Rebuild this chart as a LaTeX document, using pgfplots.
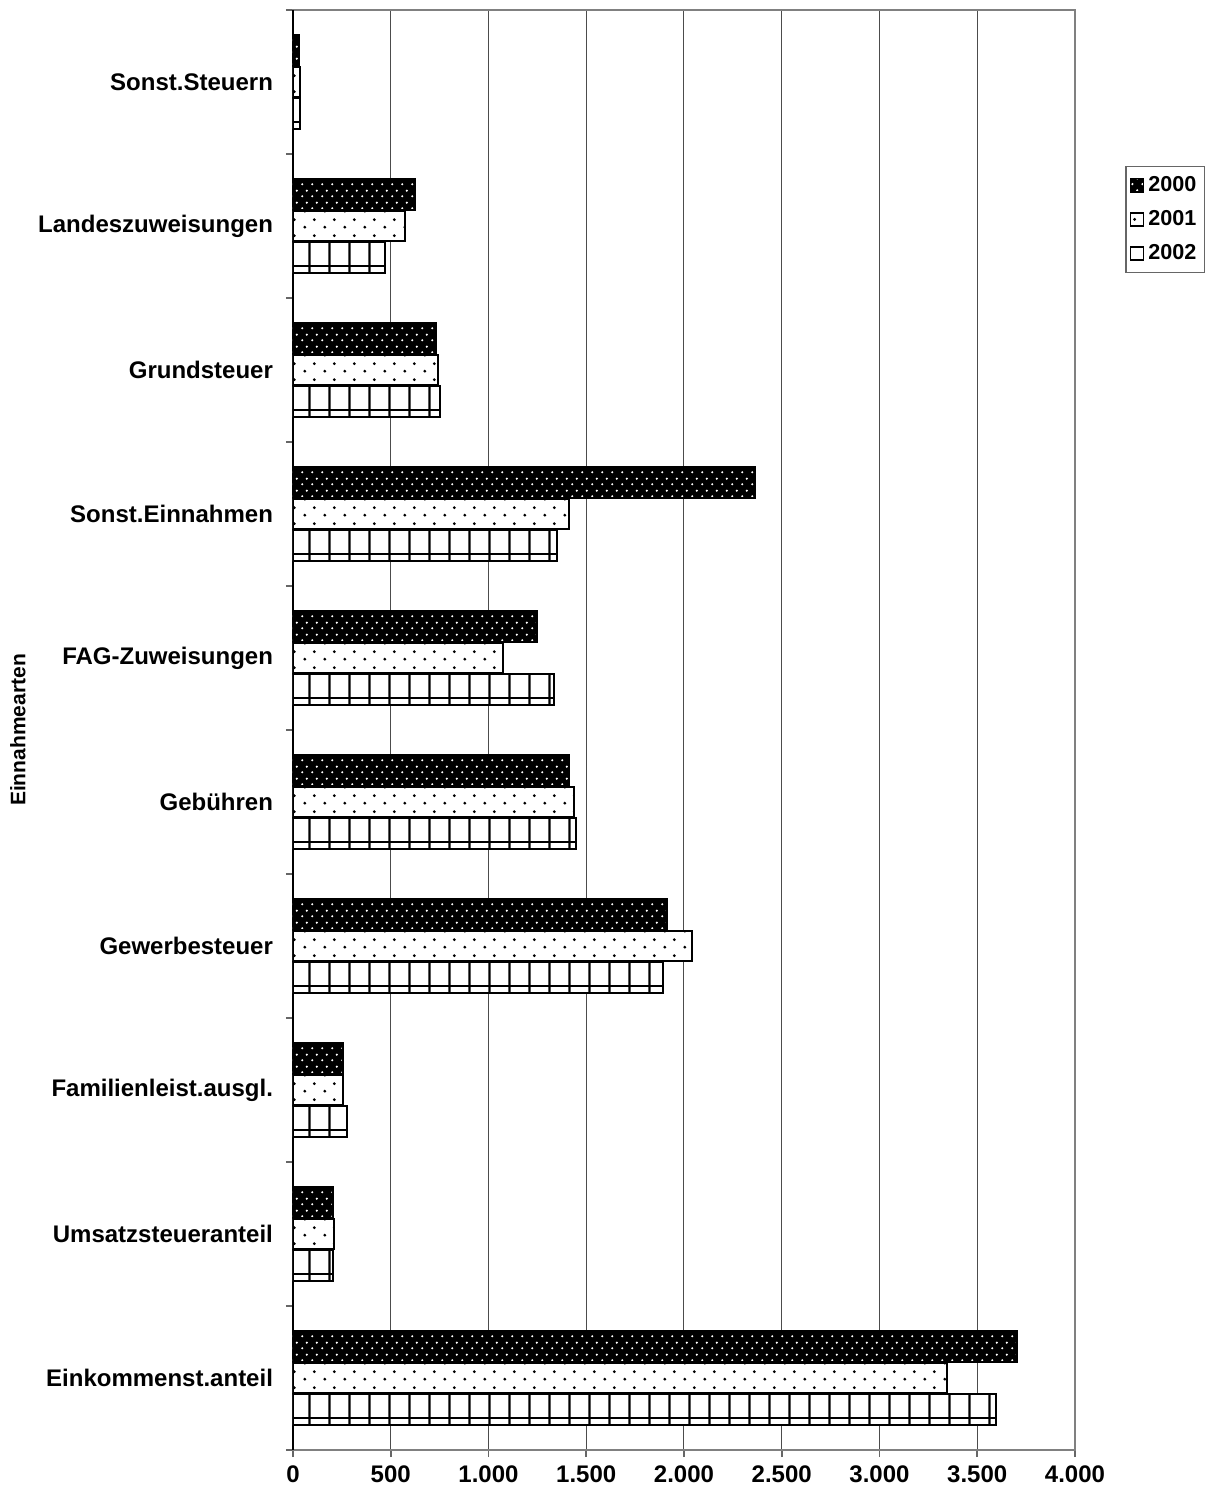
\documentclass[border=0pt]{standalone}
\usepackage{fontspec}
\setmainfont{Liberation Sans}
\usepackage{pgfplots}
\usepackage{pgfplotstable}
\pgfplotsset{compat=1.18}
\usetikzlibrary{patterns}

% dense dots (white on black bars)
\pgfdeclarepatternformonly{dotsA}{\pgfqpoint{0pt}{0pt}}{\pgfqpoint{5pt}{6pt}}{\pgfqpoint{5pt}{6pt}}{
  \pgfpathcircle{\pgfqpoint{1.25pt}{1.5pt}}{0.65pt}
  \pgfpathcircle{\pgfqpoint{3.75pt}{4.5pt}}{0.65pt}
  \pgfusepath{fill}}
% sparse dots (black on white bars)
\pgfdeclarepatternformonly{dotsB}{\pgfqpoint{0pt}{0pt}}{\pgfqpoint{10pt}{8pt}}{\pgfqpoint{10pt}{8pt}}{
  \pgfpathcircle{\pgfqpoint{2.5pt}{2pt}}{0.8pt}
  \pgfpathcircle{\pgfqpoint{7.5pt}{6pt}}{0.8pt}
  \pgfusepath{fill}}
% vertical lines
\pgfdeclarepatternformonly{vlines}{\pgfqpoint{0pt}{0pt}}{\pgfqpoint{10pt}{10pt}}{\pgfqpoint{10pt}{10pt}}{
  \pgfpathrectangle{\pgfqpoint{4.4pt}{-0.5pt}}{\pgfqpoint{1.2pt}{11pt}}
  \pgfusepath{fill}}

% pos 0 = Einkommenst.anteil (bottom) ... 9 = Sonst.Steuern (top)
\pgfplotstableread{
pos a b c
0 3703 3345 3596
1 205 210 205
2 256 256 276
3 1913 2041 1893
4 1412 1437 1448
5 1248 1074 1335
6 2363 1412 1350
7 731 742 752
8 622 571 471
9 31 36 34
}\data

\begin{document}
\begin{tikzpicture}
\path[use as bounding box] (-146.5pt,-22.5pt) rectangle (458.5pt,725pt);
\begin{axis}[
    at={(0,0)}, anchor=south west,
    scale only axis,
    width=391pt, height=720pt,
    xbar,
    xmin=0, xmax=4000,
    ymin=-0.5, ymax=9.5,
    xtick={0,500,...,4000},
    minor xtick={0,500,...,4000},
    ytick={0,...,9},
    yticklabels={Einkommenst.anteil, Umsatzsteueranteil, Familienleist.ausgl., Gewerbesteuer, Geb\"uhren, FAG-Zuweisungen, Sonst.Einnahmen, Grundsteuer, Landeszuweisungen, Sonst.Steuern},
    minor ytick={-0.5,0.5,...,9.5},
    tick align=outside,
    major tick length=0pt,
    minor tick length=3.5pt,
    xtick pos=left, ytick pos=left,
    tick style={black!60, line width=0.8pt},
    axis line style={black!50, line width=1pt},
    xmajorgrids,
    major grid style={black!70, line width=0.5pt},
    extra x ticks={0}, extra x tick labels={},
    extra x tick style={grid=major, major grid style={black, line width=1.2pt}},
    /pgf/number format/.cd, 1000 sep={.}, assume math mode=true,
    /pgfplots/.cd,
    ticklabel style={font=\fontsize{12}{14}\selectfont\bfseries},
    xticklabel style={yshift=-4.5pt},
    yticklabel style={xshift=-6.5pt},
    ylabel={Einnahmearten},
    every axis y label/.style={at={(rel axis cs:-0.3517,0.5)}, rotate=90, anchor=center,
        font=\fontsize{10.5}{12}\selectfont\bfseries},
    legend style={at={(rel axis cs:1.064,0.892)}, anchor=north west,
        draw=black!60, line width=0.8pt,
        font=\fontsize{10.8}{12}\selectfont\bfseries,
        row sep=4pt, inner xsep=2pt, inner ysep=3pt},
    legend cell align=left,
    legend image code/.code={\draw[#1, line width=0.7pt] (0pt,-3.3pt) rectangle (6.6pt,3.3pt);},
]
\addplot[bar width=0.215, bar shift=0.222, draw=black, line width=1pt,
    fill=black, postaction={pattern=dotsA, pattern color=white}]
    table[x=a, y=pos] {\data};
\addlegendentry{2000}
\addplot[bar width=0.215, bar shift=0, draw=black, line width=1pt,
    fill=white, postaction={pattern=dotsB}]
    table[x=b, y=pos] {\data};
\addlegendentry{2001}
\addplot[bar width=0.215, bar shift=-0.222, draw=black, line width=1pt,
    fill=white, postaction={pattern=vlines}]
    table[x=c, y=pos] {\data};
\addlegendentry{2002}
\addplot[forget plot, bar width=0.055, bar shift=-0.302, draw=black, line width=1pt, fill=none]
    table[x=c, y=pos] {\data};
\end{axis}
\end{tikzpicture}
\end{document}
